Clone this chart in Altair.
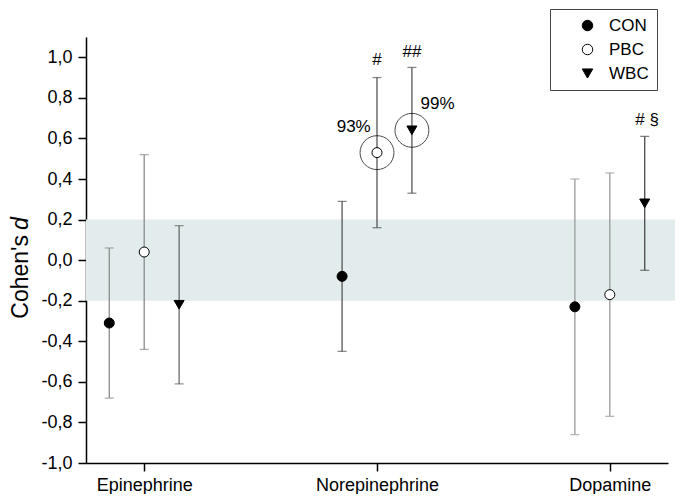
import altair as alt
import pandas as pd

hormones = ["Epinephrine", "Norepinephrine", "Dopamine"]
groups = ["CON", "PBC", "WBC"]
group_offset = [-0.15, 0.0, 0.15]

# Cohen's d and CI bounds, per hormone (rows) and group (columns)
d_values = [[-0.31, 0.04, -0.22],
            [-0.08, 0.53, 0.64],
            [-0.23, -0.17, 0.28]]
ci_low = [[-0.68, -0.44, -0.61],
          [-0.45, 0.16, 0.33],
          [-0.86, -0.77, -0.05]]
ci_high = [[0.06, 0.52, 0.17],
           [0.29, 0.90, 0.95],
           [0.40, 0.43, 0.61]]
bar_color = [["#8c8c8c", "#8c8c8c", "#6a6a6a"],
             ["#555555", "#555555", "#555555"],
             ["#9a9a9a", "#9a9a9a", "#4a4a4a"]]

rows = []
for i, h in enumerate(hormones):
    for j, g in enumerate(groups):
        rows.append({"hormone": h, "group": g, "x": i + 1 + group_offset[j],
                     "d": d_values[i][j], "lo": ci_low[i][j], "hi": ci_high[i][j],
                     "col": bar_color[i][j]})
df = pd.DataFrame(rows)

# highlighted points (rings) and annotation texts
ring_hormone = ["Norepinephrine", "Norepinephrine"]
ring_group = ["PBC", "WBC"]
note_text = ["#", "##", "# §", "93%", "99%"]
note_x = [2.0, 2.15, 3.16, 1.90, 2.26]
note_y = [0.985, 1.025, 0.69, 0.654, 0.768]

rings = df[[(h, g) in zip(ring_hormone, ring_group) for h, g in zip(df.hormone, df.group)]]
notes = pd.DataFrame({"t": note_text, "x": note_x, "y": note_y})
band = pd.DataFrame({"x": [0.75], "x2": [3.29], "y": [-0.2], "y2": [0.2]})

FONT = "Liberation Sans"
xscale = alt.Scale(domain=[0.75, 3.25], nice=False, zero=False)
yscale = alt.Scale(domain=[-1.0, 1.1], nice=False, zero=False)

label_js = "['Epinephrine','Norepinephrine','Dopamine'][datum.value-1]"
yfmt = "replace(replace(format(datum.value, '.1f'), '.', ','), '\u2212', '-')"

band_layer = alt.Chart(band).mark_rect(color="#e2ecec", clip=False).encode(
    x=alt.X("x:Q", scale=xscale, axis=alt.Axis(values=[1, 2, 3], labelExpr=label_js, title=None,
                                             grid=False, domainColor="black", domainWidth=1.5,
                                             tickColor="black", tickWidth=1.5, tickSize=8,
                                             labelFont=FONT, labelFontSize=18, labelColor="black",
                                             labelPadding=5)),
    x2="x2:Q",
    y=alt.Y("y:Q", scale=yscale, axis=alt.Axis(values=[-1.0, -0.8, -0.6, -0.4, -0.2, 0.0, 0.2, 0.4, 0.6, 0.8, 1.0],
                                             labelExpr=yfmt, title=None, grid=False,
                                             domainColor="black", domainWidth=1.5,
                                             tickColor="black", tickWidth=1.5, tickSize=8,
                                             labelFont=FONT, labelFontSize=18, labelColor="black",
                                             labelPadding=6)),
    y2="y2:Q",
)

err = alt.Chart(df).mark_rule(strokeWidth=1.3).encode(
    x="x:Q", y="lo:Q", y2="hi:Q", color=alt.Color("col:N", scale=None, legend=None))
cap_lo = alt.Chart(df).mark_tick(orient="horizontal", size=9, thickness=1.3).encode(
    x="x:Q", y="lo:Q", color=alt.Color("col:N", scale=None, legend=None))
cap_hi = alt.Chart(df).mark_tick(orient="horizontal", size=9, thickness=1.3).encode(
    x="x:Q", y="hi:Q", color=alt.Color("col:N", scale=None, legend=None))

legend = alt.Legend(title=None, orient="none", legendX=464, legendY=-28,
                    strokeColor="#444", padding=8, symbolOffset=21,
                    labelFont=FONT, labelFontSize=17, labelColor="black",
                    labelOffset=13, rowPadding=6, symbolSize=110,
                    symbolStrokeWidth=1)

pts = alt.Chart(df).mark_point(filled=False, opacity=1, strokeWidth=1, size=100).encode(
    x="x:Q", y="d:Q",
    shape=alt.Shape("group:N", scale=alt.Scale(domain=groups, range=["circle", "circle", "triangle-down"]),
                    legend=legend),
    fill=alt.Fill("group:N", scale=alt.Scale(domain=groups, range=["black", "white", "black"]), legend=legend),
    stroke=alt.Stroke("group:N", scale=alt.Scale(domain=groups, range=["black", "black", "black"]), legend=legend),
)

ring_layer = alt.Chart(rings).mark_point(filled=False, stroke="black", strokeWidth=1, size=1150, shape="circle").encode(
    x="x:Q", y="d:Q")

note_layer = alt.Chart(notes).mark_text(font=FONT, fontSize=17, color="black", baseline="middle").encode(
    x="x:Q", y="y:Q", text="t:N")

title_a = alt.Chart(pd.DataFrame({"t": ["Cohen's"]})).mark_text(
    font=FONT, fontSize=23, angle=270, align="right", baseline="middle", color="black").encode(
    x=alt.value(-65), y=alt.value(198), text="t:N")
title_b = alt.Chart(pd.DataFrame({"t": ["d"]})).mark_text(
    font=FONT, fontSize=23, angle=270, align="left", baseline="middle", fontStyle="italic", color="black").encode(
    x=alt.value(-65), y=alt.value(193), text="t:N")

chart = alt.layer(band_layer, err, cap_lo, cap_hi, ring_layer, pts, note_layer, title_a, title_b).properties(
    width=582, height=426,
    autosize=alt.AutoSizeParams(type="none"),
    padding={"left": 78, "top": 29, "right": 7, "bottom": 31},
).configure_view(stroke=None)

chart.save("out.html", embed_options={"renderer": "svg", "actions": False})
